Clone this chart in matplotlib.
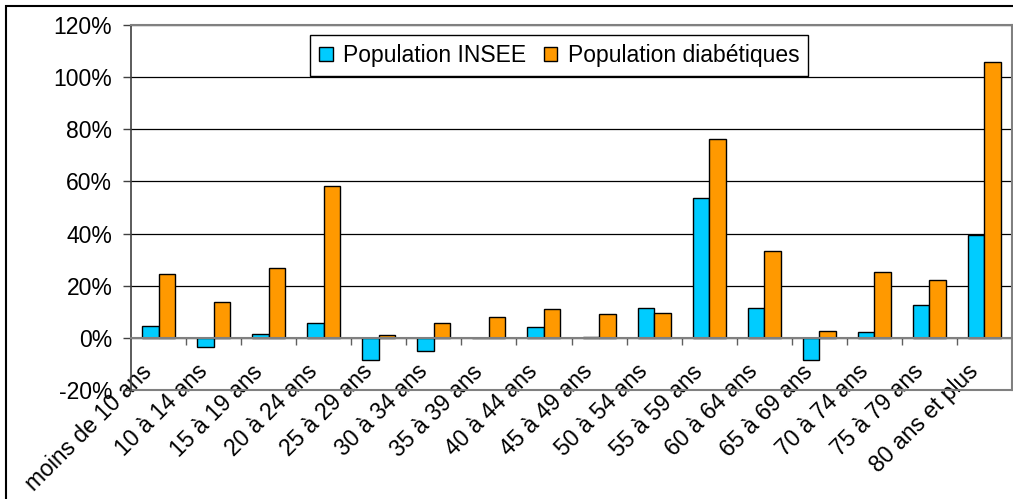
import numpy as np
import matplotlib.pyplot as plt
from matplotlib.patches import Rectangle
from matplotlib.ticker import FuncFormatter, FixedLocator
from matplotlib.transforms import ScaledTranslation

plt.rcParams['font.family'] = ['Liberation Sans', 'DejaVu Sans']

# age groups and growth rates (%)
categories = ["moins de 10 ans", "10 à 14 ans", "15 à 19 ans", "20 à 24 ans",
              "25 à 29 ans", "30 à 34 ans", "35 à 39 ans", "40 à 44 ans",
              "45 à 49 ans", "50 à 54 ans", "55 à 59 ans", "60 à 64 ans",
              "65 à 69 ans", "70 à 74 ans", "75 à 79 ans", "80 ans et plus"]
insee = [4.6, -3.4, 1.3, 5.7, -8.5, -5.2, 0.0, 4.0,
         0.5, 11.4, 53.7, 11.4, -8.5, 2.3, 12.6, 39.4]
diabetiques = [24.5, 13.8, 26.9, 58.3, 1.1, 5.7, 8.0, 10.9,
               9.2, 9.7, 76.1, 33.3, 2.8, 25.1, 22.2, 105.8]

series_names = ["Population INSEE", "Population diabétiques"]
colors = ["#00CCFF", "#FF9900"]

W, H = 1013, 499
fig = plt.figure(figsize=(W / 100, H / 100), dpi=100)
ax = fig.add_axes([131 / W, 1 - 390 / H, 881 / W, 365 / H])

x = np.arange(len(categories))
bw = 0.3
ax.bar(x - bw / 2, insee, bw, color=colors[0], edgecolor="black", linewidth=1, zorder=3)
ax.bar(x + bw / 2, diabetiques, bw, color=colors[1], edgecolor="black", linewidth=1, zorder=3)

ax.set_xlim(-0.5, len(categories) - 0.5)
ax.set_ylim(-20, 120)
ax.set_yticks(np.arange(-20, 121, 20))
ax.yaxis.set_major_formatter(FuncFormatter(lambda v, p: f"{v:.0f}%"))
ax.grid(axis="y", color="black", linewidth=0.9, zorder=0)
ax.tick_params(axis="y", direction="out", length=6, width=1, color="#404040",
               pad=7.5, labelsize=16.5)

# category axis sits on the zero line
for s in ["top", "right"]:
    ax.spines[s].set_color("#808080")
    ax.spines[s].set_linewidth(1.5)
ax.spines["left"].set_color("#404040")
ax.spines["left"].set_linewidth(1.2)
ax.spines["bottom"].set_position(("data", 0))
ax.spines["bottom"].set_color("#808080")
ax.spines["bottom"].set_linewidth(1.5)
ax.spines["bottom"].set_zorder(4)
ax.axhline(-20, color="#808080", linewidth=1.5, clip_on=False)

ax.set_xticks(x)
ax.set_xticklabels(categories, rotation=45, ha="right", va="top",
                   rotation_mode="anchor", fontsize=16.5)
ax.tick_params(axis="x", which="major", length=0, pad=16)
ax.xaxis.set_minor_locator(FixedLocator(np.arange(0.5, len(categories) - 1, 1)))
ax.tick_params(axis="x", which="minor", direction="out", length=5,
               width=1, color="#606060")
shift = ScaledTranslation(-18 / 100, 0, fig.dpi_scale_trans)
for lbl in ax.get_xticklabels():
    lbl.set_transform(lbl.get_transform() + shift)

handles = [Rectangle((0, 0), 1, 1, facecolor=c, edgecolor="black", linewidth=1)
           for c in colors]
leg = fig.legend(handles, series_names, loc="upper left",
                 bbox_to_anchor=(310 / W, 1 - 35 / H), ncol=2, fontsize=16.5,
                 frameon=True, fancybox=False, framealpha=1, edgecolor="black",
                 handlelength=0.6, handleheight=0.6, handletextpad=0.45,
                 columnspacing=0.75, borderpad=0.4, borderaxespad=0)
leg.get_frame().set_linewidth(1)

# outer chart frame
fig.patches.append(Rectangle((6 / W, -0.1), 1.2, 1.1 - 6 / H, transform=fig.transFigure,
                             fill=False, edgecolor="black", linewidth=1.5))

fig.savefig("out.png", dpi=100)
